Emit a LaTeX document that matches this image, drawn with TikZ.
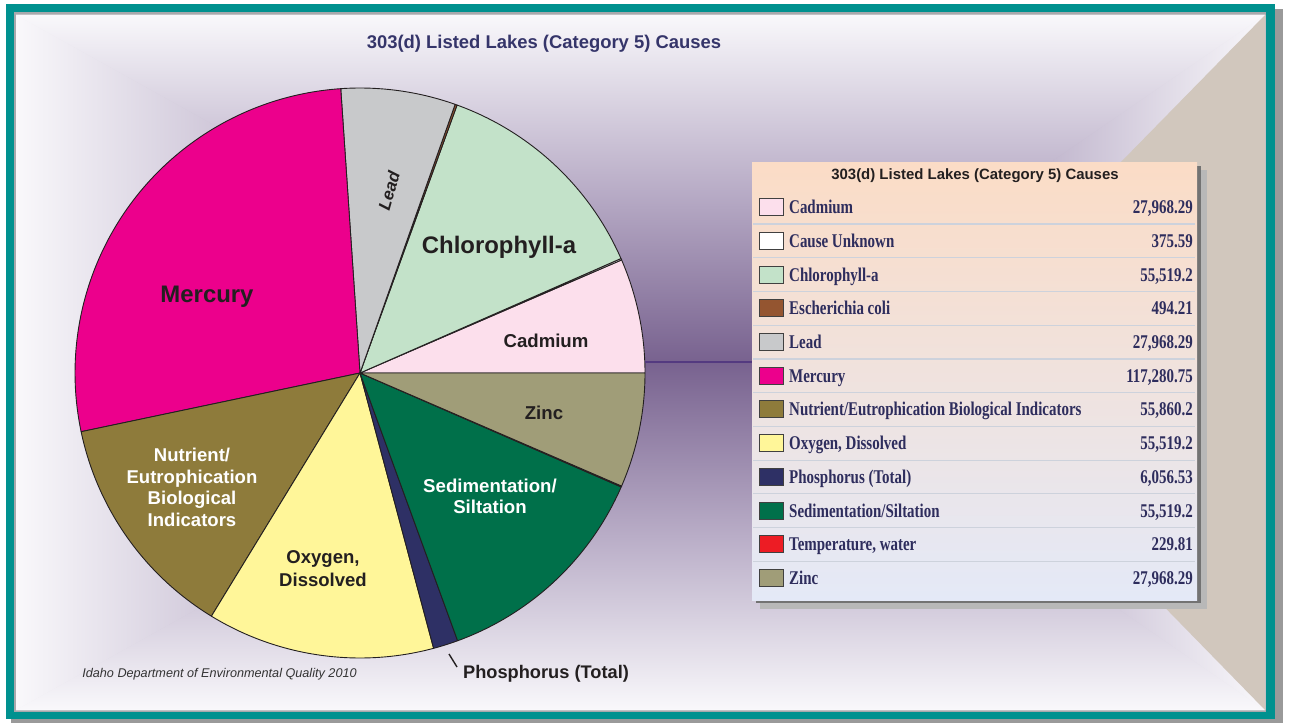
\documentclass[tikz,border=0pt]{standalone}
\usepackage{fontspec}
\setmainfont{Liberation Sans}
\newfontfamily\tabfont[FakeStretch=0.77]{Liberation Serif}
\usetikzlibrary{calc}
% frame
\definecolor{frameTeal}{HTML}{00918F}
\definecolor{frameShadow}{HTML}{9A9A9A}
\definecolor{bevelGray}{HTML}{A8A8AC}
\definecolor{beigeWall}{HTML}{D1C7BD}
% wall gradient
\definecolor{wA}{HTML}{78628F}
\definecolor{wB}{HTML}{B9ADC7}
\definecolor{wC}{HTML}{F9F8FB}
% slices
\definecolor{cCad}{HTML}{FCDFEC}
\definecolor{cUnk}{HTML}{FFFFFF}
\definecolor{cChl}{HTML}{C3E2C9}
\definecolor{cEco}{HTML}{945530}
\definecolor{cLead}{HTML}{C8C9CB}
\definecolor{cMerc}{HTML}{EC008C}
\definecolor{cNut}{HTML}{8E7B3B}
\definecolor{cOxy}{HTML}{FFF699}
\definecolor{cPhos}{HTML}{2E3065}
\definecolor{cSed}{HTML}{00704A}
\definecolor{cTemp}{HTML}{ED1C24}
\definecolor{cZinc}{HTML}{A09D78}
\definecolor{pieLine}{HTML}{231F20}
\definecolor{titleBlue}{HTML}{35356A}
\definecolor{rowText}{HTML}{2E2D5D}
\definecolor{connPurple}{HTML}{543A80}
\definecolor{sepLine}{HTML}{CDD2DC}
\definecolor{tabTop}{HTML}{FBDCC6}
\definecolor{tabMid}{HTML}{EDE4DC}
\definecolor{tabBot}{HTML}{E4E9F7}

\pgfdeclareverticalshading{wallshade}{100bp}{color(0bp)=(wA); color(25bp)=(wA); color(50bp)=(wB); color(75bp)=(wC); color(100bp)=(wC)}

\newcommand\pieslice[3]{\filldraw[slice,fill=#3] (pc) -- ++(#1:285) arc[start angle=#1,end angle=#2,radius=285] -- cycle;}
\newcommand\tabrow[5]{%
  \node[swatch,fill=#5] (sw#1) at (771,-#2) {};
  \node[rowlabel] (lb#1) at (789,-#2-6.5) {#3};
  \node[rowvalue] (val#1) at (1193,-#2-6.5) {#4};}
\newcommand\drawwalls{%
  \shade[shading=wallshade] (TL) -- (TR) -- (VR) -- (VL) -- cycle;
  \shade[shading=wallshade,shading angle=180] (BL) -- (BR) -- (VR) -- (VL) -- cycle;
  \shade[shading=wallshade,shading angle=90] (TL) -- (BL) -- (VL) -- cycle;
  \shade[shading=wallshade,shading angle=-90] (TR) -- (BR) -- (VR) -- cycle;}

\begin{document}
\begin{tikzpicture}[x=1bp,y=1bp,
  slice/.style={draw=pieLine,line width=0.9bp,line join=round},
  pielabel/.style={font=\fontsize{18.7}{21}\selectfont\bfseries,text=pieLine,align=center,inner sep=0},
  whitelabel/.style={pielabel,text=white},
  biglabel/.style={pielabel,font=\fontsize{24}{28}\selectfont\bfseries},
  swatch/.style={draw=black!75,line width=0.9bp,minimum width=24bp,minimum height=17bp,inner sep=0},
  rowlabel/.style={anchor=base west,inner sep=0,text=rowText,font=\tabfont\bfseries\fontsize{19.5}{22}\selectfont},
  rowvalue/.style={anchor=base east,inner sep=0,text=rowText,font=\tabfont\bfseries\fontsize{19.5}{22}\selectfont},
  sepline/.style={draw=sepLine,line width=1.2bp},
  connector/.style={draw=connPurple,line width=2.4bp},
  leader/.style={draw=pieLine,line width=1.4bp}
]
\useasboundingbox (0,0) rectangle (1290,-723);
% ---- frame
\fill[white] (0,0) rectangle (1290,-723);
\fill[frameShadow] (11,-9) rectangle (1283,-723);
\fill[frameTeal] (6,-4) rectangle (1275,-719);
\fill[bevelGray] (14,-12) rectangle (1266,-712);
\coordinate (TL) at (16,-15);
\coordinate (TR) at (1265,-15);
\coordinate (BR) at (1265,-710);
\coordinate (BL) at (16,-710);
\coordinate (VL) at (640,-362);
\coordinate (VR) at (760,-362);
\coordinate (BA) at (925,-362);
\drawwalls
\drawwalls
\drawwalls
\fill[beigeWall] (TR) -- (BR) -- (BA) -- cycle;
% ---- title
\node[font=\fontsize{18.5}{22}\selectfont\bfseries,text=titleBlue,inner sep=0] (title) at (544,-44) {303(d) Listed Lakes (Category 5) Causes};
% ---- pie
\coordinate (pc) at (360,-373);
\pieslice{0}{23.374}{cCad}
\pieslice{23.374}{23.688}{cUnk}
\pieslice{23.688}{70.087}{cChl}
\pieslice{70.087}{70.500}{cEco}
\pieslice{70.500}{93.874}{cLead}
\pieslice{93.874}{191.889}{cMerc}
\pieslice{191.889}{238.573}{cNut}
\pieslice{238.573}{284.972}{cOxy}
\pieslice{284.972}{290.034}{cPhos}
\pieslice{290.034}{336.433}{cSed}
\pieslice{336.433}{336.625}{cTemp}
\pieslice{336.625}{360}{cZinc}
% ---- pie labels
\node[biglabel] (lMerc) at (207,-297) {Mercury};
\node[pielabel,font=\fontsize{17}{20}\selectfont\bfseries\itshape,rotate=74] (lLead) at (389,-191) {Lead};
\node[biglabel] (lChl) at (499,-247) {Chlorophyll-a};
\node[pielabel] (lCad) at (546,-341) {Cadmium};
\node[pielabel] (lZinc) at (544,-413) {Zinc};
\node[whitelabel] (lSed) at (490,-496.5) {Sedimentation/\\Siltation};
\node[pielabel,font=\fontsize{18.6}{23}\selectfont\bfseries] (lOxy) at (323,-568.5) {Oxygen,\\Dissolved};
\node[whitelabel,font=\fontsize{18.6}{21.7}\selectfont\bfseries] (lNut) at (192,-487.5) {Nutrient/\\Eutrophication\\Biological\\Indicators};
\node[pielabel,font=\fontsize{18.3}{21}\selectfont\bfseries] (lPhos) at (546,-674) {Phosphorus (Total)};
\coordinate (phA) at (449,-654);
\coordinate (phB) at (457,-667);
\draw[leader] (phA) -- (phB);
% ---- credit
\node[inner sep=0,text=black!80,font=\fontsize{12.7}{15}\selectfont\itshape] (credit) at (219.5,-674) {Idaho Department of Environmental Quality 2010};
% ---- table
\fill[black!28] (760,-170) rectangle (1207,-609);
\fill[black!55] (756,-166) rectangle (1201,-603);
\node[minimum width=445bp,minimum height=437bp,inner sep=0,top color=tabTop,middle color=tabMid,bottom color=tabBot] (tbl) at (974.5,-381.5) {};
\coordinate (pieR) at ($(pc)+(2.21:285)$);
\draw[connector] (pieR) -- (pieR -| tbl.west);
\node[inner sep=0,text=pieLine,font=\fontsize{15}{18}\selectfont\bfseries] (thead) at (975,-176) {303(d) Listed Lakes (Category 5) Causes};
\foreach \y in {224,257.7,291.4,325.2,358.9,392.6,426.4,460.1,493.8,527.6,561.3}
  \draw[sepline] (753,-\y) -- (1195,-\y);
\tabrow{1}{207}{Cadmium}{27,968.29}{cCad}
\tabrow{2}{240.7}{Cause Unknown}{375.59}{cUnk}
\tabrow{3}{274.5}{Chlorophyll-a}{55,519.2}{cChl}
\tabrow{4}{308.2}{Escherichia coli}{494.21}{cEco}
\tabrow{5}{341.9}{Lead}{27,968.29}{cLead}
\tabrow{6}{375.6}{Mercury}{117,280.75}{cMerc}
\tabrow{7}{409.4}{Nutrient/Eutrophication Biological Indicators}{55,860.2}{cNut}
\tabrow{8}{443.1}{Oxygen, Dissolved}{55,519.2}{cOxy}
\tabrow{9}{476.8}{Phosphorus (Total)}{6,056.53}{cPhos}
\tabrow{10}{510.6}{Sedimentation/Siltation}{55,519.2}{cSed}
\tabrow{11}{544.3}{Temperature, water}{229.81}{cTemp}
\tabrow{12}{578}{Zinc}{27,968.29}{cZinc}
\end{tikzpicture}
\end{document}
